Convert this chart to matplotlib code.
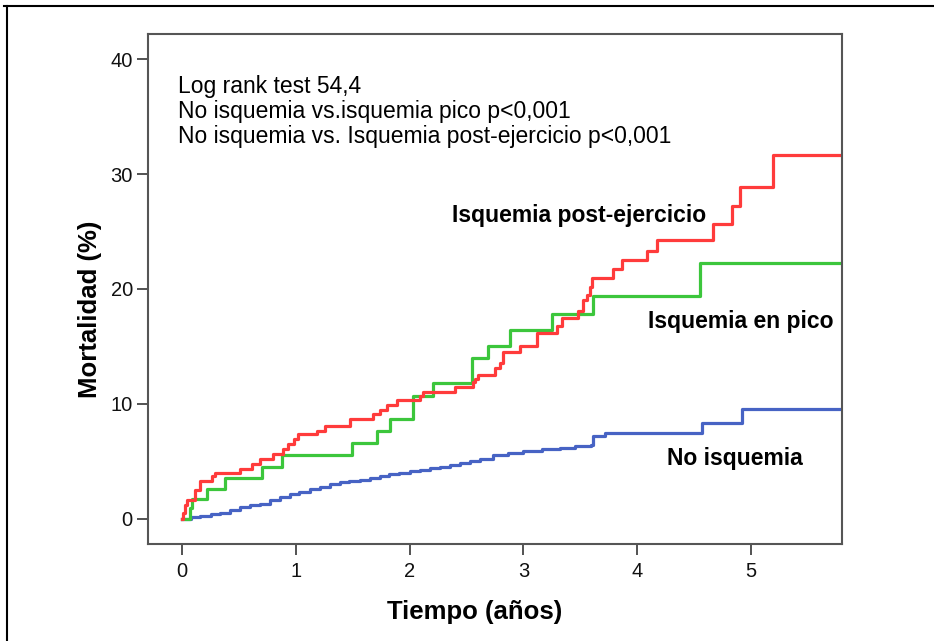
import matplotlib.pyplot as plt
from matplotlib.lines import Line2D

plt.rcParams['font.family'] = ['Liberation Sans', 'DejaVu Sans']

# Kaplan-Meier step curves: time (years), cumulative mortality (%)
t_post = [0, 0.01, 0.024, 0.041, 0.112, 0.156, 0.261, 0.288, 0.508, 0.613, 0.683, 0.798,
          0.886, 0.930, 0.982, 1.018, 1.185, 1.255, 1.475, 1.677, 1.739, 1.800, 1.888,
          2.090, 2.117, 2.398, 2.557, 2.574, 2.600, 2.750, 2.794, 2.820, 2.970, 3.120,
          3.296, 3.340, 3.480, 3.524, 3.560, 3.586, 3.604, 3.788, 3.868, 4.087, 4.175,
          4.668, 4.835, 4.905, 5.195, 5.8]
m_post = [0, 0.5, 1.2, 1.65, 2.5, 3.25, 3.7, 3.98, 4.33, 4.79, 5.22, 5.66,
          6.09, 6.53, 6.96, 7.4, 7.66, 8.09, 8.67, 9.14, 9.49, 9.92, 10.3,
          10.65, 11.0, 11.46, 11.9, 12.2, 12.5, 13.1, 13.6, 14.5, 15.0, 16.2,
          16.8, 17.5, 18.1, 19.0, 19.5, 20.2, 20.95, 21.7, 22.5, 23.35, 24.3,
          25.7, 27.2, 28.9, 31.7, 31.7]

t_pico = [0, 0.068, 0.085, 0.217, 0.376, 0.701, 0.877, 1.493, 1.713, 1.827, 2.030,
          2.206, 2.549, 2.69, 2.88, 3.25, 3.61, 4.55, 5.8]
m_pico = [0, 0.95, 1.7, 2.58, 3.54, 4.5, 5.57, 6.59, 7.6, 8.7, 10.65,
          11.8, 14.0, 15.0, 16.45, 17.8, 19.4, 22.3, 22.3]

t_no = [0, 0.08, 0.16, 0.25, 0.33, 0.42, 0.51, 0.60, 0.68, 0.77, 0.86, 0.95, 1.03,
        1.12, 1.21, 1.30, 1.39, 1.47, 1.56, 1.65, 1.74, 1.82, 1.91, 2.00, 2.09, 2.18,
        2.27, 2.35, 2.44, 2.53, 2.62, 2.73, 2.86, 3.00, 3.16, 3.32, 3.45, 3.59, 3.61,
        3.72, 4.57, 4.92, 5.8]
m_no = [0, 0.13, 0.26, 0.39, 0.52, 0.78, 1.04, 1.17, 1.30, 1.60, 1.90, 2.12, 2.35,
        2.58, 2.80, 3.00, 3.20, 3.30, 3.40, 3.58, 3.75, 3.88, 4.00, 4.13, 4.26, 4.38,
        4.50, 4.68, 4.87, 5.03, 5.20, 5.57, 5.70, 5.86, 6.03, 6.20, 6.32, 6.44, 7.16,
        7.50, 8.33, 9.55, 9.55]

x_ticks = [0, 1, 2, 3, 4, 5]
y_ticks = [0, 10, 20, 30, 40]

stats_lines = ["Log rank test 54,4",
               "No isquemia vs.isquemia pico p<0,001",
               "No isquemia vs. Isquemia post-ejercicio p<0,001"]

fig = plt.figure(figsize=(9.34, 6.41), dpi=100)
ax = fig.add_axes([0.1585, 0.1513, 0.743, 0.7957])

ax.step(t_no, m_no, where='post', color='#4763c4', lw=2.3)
ax.step(t_pico, m_pico, where='post', color='#3cc63c', lw=2.3)
ax.step(t_post, m_post, where='post', color='#ff3b3b', lw=2.3)

ax.set_xlim(-0.3, 5.8)
ax.set_ylim(-2.2, 42.2)
ax.set_xticks(x_ticks)
ax.set_yticks(y_ticks)
ax.tick_params(axis='both', direction='out', length=8, width=1.3, colors='#444444',
               labelcolor='#111111', labelsize=14.5)
ax.tick_params(axis='x', pad=5)
ax.tick_params(axis='y', pad=3)
for s in ax.spines.values():
    s.set_color('#555555')
    s.set_linewidth(1.5)

# axis titles sit a bit left of / below the axes centre
fig.text(475 / 934, 1 - 612 / 641, "Tiempo (años)", fontsize=18.5, fontweight='bold',
         ha='center', va='center')
fig.text(90 / 934, 1 - 309 / 641, "Mortalidad (%)", fontsize=18.5, fontweight='bold',
         ha='center', va='center', rotation=90)

for i, line in enumerate(stats_lines):
    ax.text(0.043, 0.884 - i * 0.049, line, transform=ax.transAxes, fontsize=16.5,
            va='baseline', ha='left')

ax.text(2.372, 25.85, "Isquemia post-ejercicio", fontsize=16.5, fontweight='bold',
        va='baseline', ha='left')
ax.text(4.096, 16.62, "Isquemia en pico", fontsize=16.5, fontweight='bold',
        va='baseline', ha='left')
ax.text(4.263, 4.7, "No isquemia", fontsize=16.5, fontweight='bold',
        va='baseline', ha='left')

# frame lines along the top and left edge of the canvas
fig.add_artist(Line2D([0.004, 1.0], [0.9906, 0.9906], transform=fig.transFigure,
                      color='black', lw=1.5))
fig.add_artist(Line2D([0.0075, 0.0075], [0.0, 0.9906], transform=fig.transFigure,
                      color='black', lw=1.5))

fig.savefig("out.png", dpi=100)
